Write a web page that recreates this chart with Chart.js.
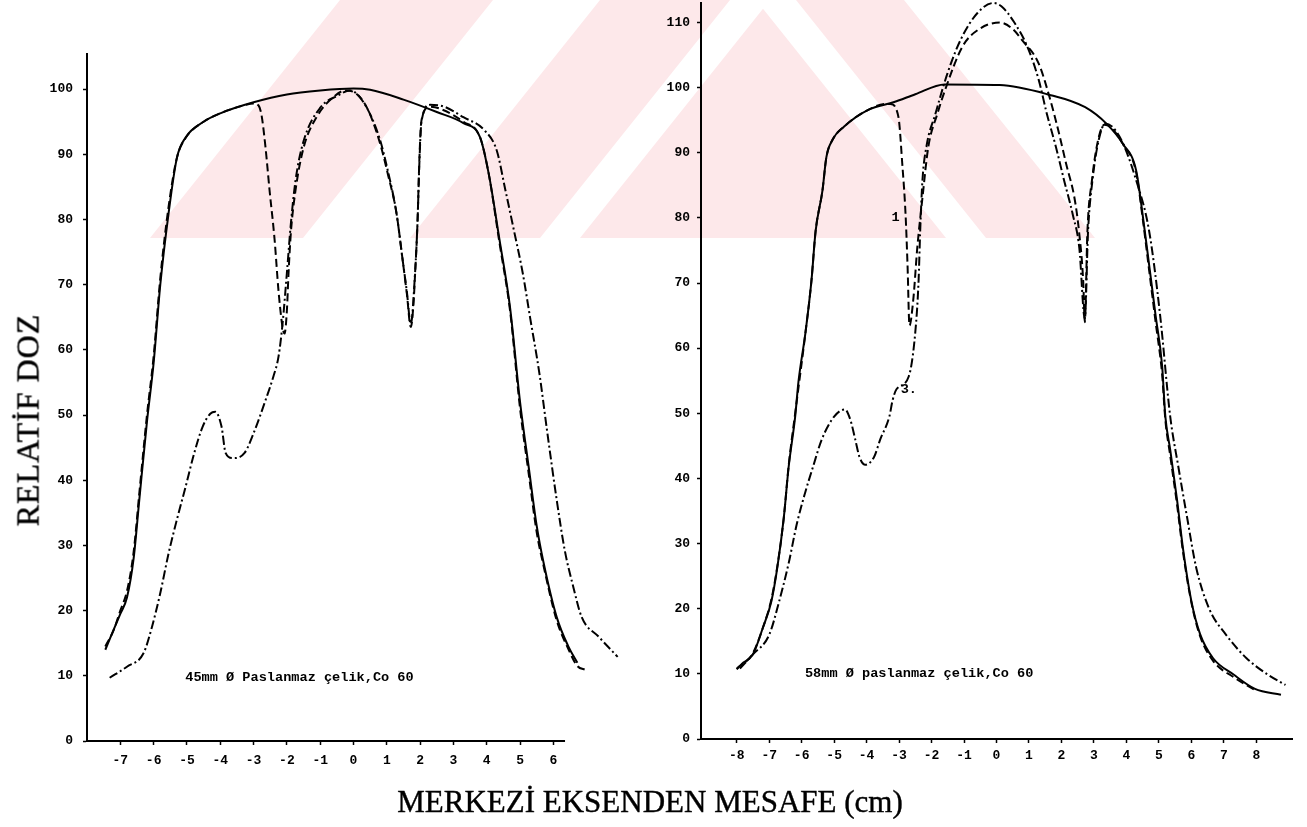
<!DOCTYPE html>
<html><head><meta charset="utf-8">
<script src="https://cdn.jsdelivr.net/npm/chart.js@4.4.1/dist/chart.umd.min.js"></script>
<style>
html,body{margin:0;padding:0;background:#fff;}
body{width:1307px;height:827px;position:relative;overflow:hidden;}
#wm{position:absolute;left:0;top:0;}
canvas{position:absolute;top:0;}
#cL{left:0;}
#cR{left:640px;}
.ttl{position:absolute;font-family:'Liberation Serif',serif;color:#000;white-space:nowrap;-webkit-text-stroke:0.4px #000;}
#ytitle{left:28px;top:420px;font-size:32px;letter-spacing:1px;transform:translate(-50%,-50%) rotate(-90deg);}
#xtitle{left:650px;top:802px;font-size:31px;transform:translate(-50%,-50%);}
</style></head>
<body>
<svg id="wm" width="1307" height="827">
  <polygon points="150,238 340,0 904,0 1095,238" fill="#fde8ea"/>
  <polygon points="303,238 410,238 600,0 493,0" fill="#fff"/>
  <polygon points="540,238 580,238 770,0 730,0" fill="#fff"/>
  <polygon points="756,0 796,0 986,238 946,238" fill="#fff"/>
</svg>
<canvas id="cL" width="640" height="827"></canvas>
<canvas id="cR" width="667" height="827"></canvas>
<div class="ttl" id="ytitle">RELATİF DOZ</div>
<div class="ttl" id="xtitle">MERKEZİ EKSENDEN MESAFE (cm)</div>
<script>
// ---------- LEFT PANEL (45 mm) ----------
const leftSolidX = [-7.45,-7.24,-7.0,-6.8,-6.6,-6.43,-6.2,-6.0,-5.8,-5.55,-5.3,-5.04,-4.5,-4.0,-3.0,-2.0,-1.0,0,0.5,1.5,2.5,3.3,3.8,4.06,4.38,4.7,5.0,5.26,5.5,5.7,6.1,6.46,6.72];
const leftSolidY = [14,16.6,19.5,22,28,37,49,58,70,81,89.5,92.6,95,96.3,98,99.2,99.8,100.1,99.9,98.4,96.5,94.8,92.6,87,77,66.5,52,42,33,27.5,19,14.4,12];
const leftDashX = [-7.45,-7.2,-7.0,-6.8,-6.6,-6.43,-6.2,-6.0,-5.8,-5.55,-5.3,-5.04,-4.5,-4.0,-3.3,-3.0,-2.85,-2.76,-2.64,-2.52,-2.37,-2.25,-2.13,-2.07,-2.0,-1.95,-1.88,-1.74,-1.5,-1.11,-0.6,-0.24,0.03,0.4,0.78,1.03,1.29,1.47,1.6,1.72,1.8,1.85,1.92,1.98,2.04,2.29,2.6,3.3,3.8,4.06,4.38,4.7,5.0,5.26,5.5,5.7,6.1,6.46,6.72,6.97];
const leftDashY = [14.5,17,20,23,29,38,50,59,71,82,89.5,92.5,95,96.3,97.5,97.8,97.5,96,91,84.5,77,69,63.5,62.5,66,71.8,78,84.5,91,95.7,98.8,99.8,99.5,97.2,92,87,81,74,68.7,63.5,67,71.8,79.4,89.6,95.2,97.3,97,95,92.6,87,76.5,66,51,41,32,27,18.5,14,11.5,10.9];
const leftDashDotX = [-7.32,-6.8,-6.3,-6.05,-5.8,-5.55,-5.3,-5.04,-4.78,-4.53,-4.3,-4.15,-3.96,-3.84,-3.63,-3.27,-3.0,-2.64,-2.4,-2.25,-2.13,-2.0,-1.88,-1.74,-1.5,-0.99,-0.48,-0.1,0.3,0.78,1.03,1.29,1.47,1.6,1.72,1.85,1.92,1.98,2.04,2.3,2.6,3.3,3.93,4.3,4.56,4.83,5.08,5.3,5.58,5.8,6.1,6.34,6.6,6.85,7.36,7.93];
const leftDashDotY = [9.7,11.4,13.5,17.5,22.7,28.8,34,39,44.2,48.2,50.2,50.5,48.2,44.2,43.4,44.2,47.2,52.3,56,59,64,71.8,79.4,86,92,97.2,99,99.8,98,92.5,87.5,81,74,69,64,72,79.4,89,95,97.6,97.5,95.7,93.7,90.6,84.5,78,71.8,65,56.4,48,37,29.3,23.6,19,16,12.9];
const leftXTickLabels = [-7,-6,-5,-4,-3,-2,-1,0,1,2,3,4,5,6];
const leftYTickLabels = [0,10,20,30,40,50,60,70,80,90,100];
const leftAxisLineX = [-8, 6.35];
const leftNote = "45mm Ø Paslanmaz çelik,Co 60";

// ---------- RIGHT PANEL (58 mm) ----------
const rightSolidX = [-8.0,-7.85,-7.5,-7.2,-6.93,-6.75,-6.55,-6.4,-6.2,-6.1,-5.88,-5.7,-5.57,-5.36,-5.24,-5.05,-4.7,-3.95,-3.15,-2.5,-1.6,0.1,1.56,2.73,3.4,3.9,4.3,4.5,4.7,4.9,5.1,5.2,5.35,5.56,5.75,6.0,6.27,6.67,7.3,7.96,8.76];
const rightSolidY = [10.7,11.5,13,17,21.2,26.3,34,41.8,49.5,54.8,62.5,70.3,78,84.2,89.3,92,94,96.6,97.8,99,100.5,100.4,99,97,94.4,91.3,87.3,80.5,72.8,65,57.3,49.5,44.4,36.7,29,21.2,16.1,12.4,9.9,7.7,6.8];
const rightDashX = [-8.0,-7.5,-7.2,-6.93,-6.75,-6.55,-6.4,-6.2,-5.88,-5.7,-5.57,-5.36,-5.24,-5.05,-4.7,-3.95,-3.4,-3.27,-3.02,-2.9,-2.8,-2.74,-2.68,-2.56,-2.44,-2.28,-2.1,-1.82,-1.58,-1.05,-0.53,0.1,0.5,0.77,1.3,1.63,1.9,2.15,2.4,2.54,2.67,2.72,2.8,2.94,3.13,3.32,3.5,3.9,4.3,4.5,4.7,4.9,5.1,5.2,5.35,5.56,5.75,6.0,6.27,6.67,7.3,7.96];
const rightDashY = [10.8,13.2,17,21.5,26.5,34,42,50,62.5,70.3,78,84.2,89.3,92,94,96.6,97.5,97.5,95.5,88.2,80.5,72.8,63.5,67.6,75.4,83.1,90.9,96,99.7,106.3,109,110,109,107.4,103.7,98.6,93.5,88.2,83.1,78,70.3,64,78,85.8,92,94.3,94,91.3,87,80,72,64,56,49,43.5,36,28.5,21,15.8,12,9.5,7.5];
const rightDashDotX = [-7.9,-7.5,-7.0,-6.7,-6.4,-6.15,-5.9,-5.65,-5.38,-5.0,-4.67,-4.5,-4.35,-4.22,-4.04,-3.77,-3.58,-3.3,-3.2,-3.08,-2.7,-2.5,-2.4,-2.35,-2.28,-2.16,-1.88,-1.51,-1.1,-0.58,-0.1,0.15,0.55,0.95,1.3,1.55,1.83,2.08,2.35,2.55,2.72,2.82,2.96,3.15,3.35,3.8,4.3,4.7,5.04,5.35,5.6,5.87,6.15,6.55,7.07,7.7,8.35,8.9];
const rightDashDotY = [10.8,13,16,21,27,33,37.7,41.8,46,49.5,50.6,49,46,43.3,42.1,43.3,46,49.5,52,53.7,55.7,62.5,70.3,78,85.8,90.9,96,102.2,107.4,111.5,113,112.5,110,106.3,101.2,96,90.9,85.8,80.5,75.4,64.5,78,86,92,94.5,92.4,85.8,78,65,49.5,41.8,34,26.3,20,16,12.4,9.9,8.3];
const rightXTickLabels = [-8,-7,-6,-5,-4,-3,-2,-1,0,1,2,3,4,5,6,7,8];
const rightYTickLabels = [0,10,20,30,40,50,60,70,80,90,100,110];
const rightNote = "58mm Ø paslanmaz çelik,Co 60";
const rightCurveTags = ["1", "3."];
const rightCurveTagX = [-3.23, -2.95];
const rightCurveTagY = [80, 53.6];

// ---------- helpers ----------
const pts = (xs, ys) => xs.map((x, i) => ({x, y: ys[i]}));
const monoFont = {family: "'Liberation Mono', monospace", weight: 'bold', size: 13};
const textPlugin = {
  id: 'notes',
  afterDatasetsDraw(chart, args, opts) {
    const ctx = chart.ctx;
    (opts.items || []).forEach(it => {
      const px = chart.scales.x.getPixelForValue(it.x);
      const py = chart.scales.y.getPixelForValue(it.y);
      ctx.save();
      ctx.font = "bold 13.6px 'Liberation Mono', monospace";
      ctx.fillStyle = '#000';
      ctx.textBaseline = 'middle';
      ctx.textAlign = 'left';
      ctx.fillText(it.text, px, py);
      ctx.restore();
    });
  }
};
function line(data, dash) {
  return {data, showLine: true, borderColor: '#000', borderWidth: 2, borderDash: dash,
    pointRadius: 0, cubicInterpolationMode: 'monotone', fill: false, clip: false};
}
function makeChart(id, cfg) {
  return new Chart(document.getElementById(id), {
    type: 'scatter',
    data: {datasets: cfg.datasets},
    options: {
      responsive: false, animation: false,
      layout: {padding: cfg.padding},
      plugins: {legend: {display: false}, tooltip: {enabled: false}, notes: {items: cfg.notes}},
      scales: {
        x: {
          type: 'linear', min: cfg.xMin, max: cfg.xMax,
          afterFit: s => { s.height = cfg.xH; s.paddingLeft = 0; s.paddingRight = 0; },
          border: {display: cfg.xBorder, color: '#000', width: 2},
          grid: {drawOnChartArea: false, tickLength: 4, tickWidth: 1.5,
            color: c => cfg.xLabels.includes(c.tick && c.tick.value) ? '#000' : 'rgba(0,0,0,0)'},
          ticks: {stepSize: 1, autoSkip: false, maxRotation: 0, includeBounds: false,
            padding: cfg.xPad, color: '#000', font: monoFont,
            callback: v => cfg.xLabels.includes(v) ? String(v) : ''}
        },
        y: {
          type: 'linear', min: 0, max: cfg.yMax,
          afterFit: s => { s.width = cfg.yW; s.paddingTop = 0; s.paddingBottom = 0; },
          border: {display: true, color: '#000', width: 2},
          grid: {drawOnChartArea: false, tickLength: 4, tickWidth: 1.5, color: '#000'},
          ticks: {stepSize: 10, includeBounds: false, padding: cfg.yPad, color: '#000', font: monoFont,
            callback: v => cfg.yLabels.includes(v) ? String(v) : ''}
        }
      }
    },
    plugins: [textPlugin]
  });
}

makeChart('cL', {
  datasets: [
    line(pts(leftAxisLineX, [0, 0]), []),
    line(pts(leftSolidX, leftSolidY), []),
    line(pts(leftDashX, leftDashY), [8, 4]),
    line(pts(leftDashDotX, leftDashDotY), [9, 3, 2, 3])
  ],
  padding: {left: 0, right: 20, top: 54, bottom: 0},
  xMin: -8, xMax: 8, xH: 86, xBorder: false, xPad: 8, xLabels: leftXTickLabels,
  yMax: 105.4, yW: 87, yPad: 10, yLabels: leftYTickLabels,
  notes: [{text: leftNote, x: -5.05, y: 9.7}]
});

makeChart('cR', {
  datasets: [
    line(pts(rightSolidX, rightSolidY), []),
    line(pts(rightDashX, rightDashY), [8, 4]),
    line(pts(rightDashDotX, rightDashDotY), [9, 3, 2, 3])
  ],
  padding: {left: 0, right: 15, top: 3, bottom: 0},
  xMin: -9.1, xMax: 9.1, xH: 88, xBorder: true, xPad: 5, xLabels: rightXTickLabels,
  yMax: 113, yW: 61, yPad: 7, yLabels: rightYTickLabels,
  notes: [{text: rightNote, x: -5.9, y: 10.1}].concat(
    rightCurveTags.map((t, i) => ({text: t, x: rightCurveTagX[i], y: rightCurveTagY[i]})))
});
</script>
</body></html>
